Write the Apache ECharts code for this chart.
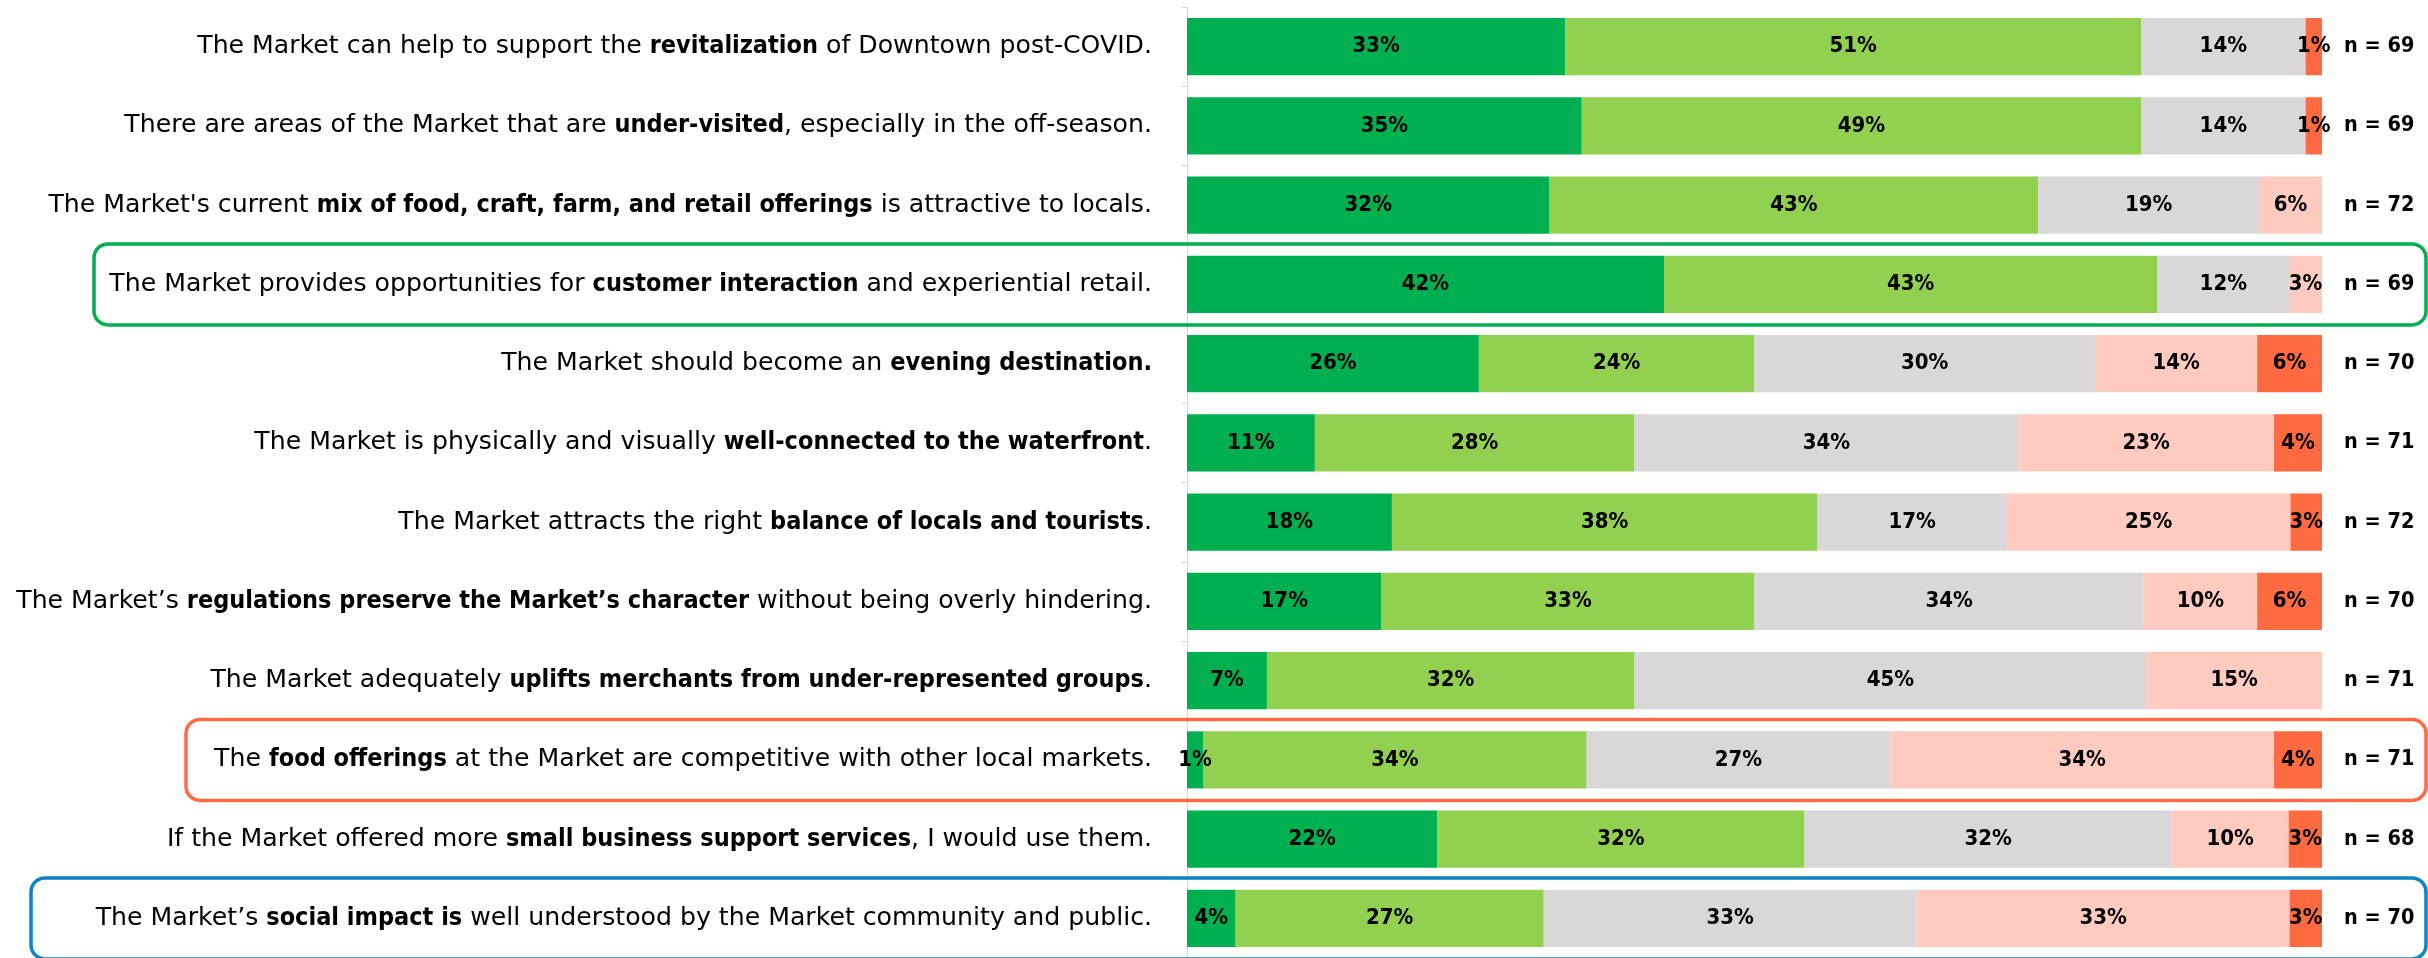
<!DOCTYPE html>
<html>
<head>
<meta charset="utf-8">
<script src="https://cdn.jsdelivr.net/npm/echarts@6/dist/echarts.min.js"></script>
<style>
  html, body { margin: 0; padding: 0; background: #ffffff; }
  #chart { width: 2428px; height: 958px; }
</style>
</head>
<body>
<div id="chart"></div>
<script>
// Statements (bold portions marked with **)
const statements = [
  "The Market can help to support the **revitalization** of Downtown post-COVID.",
  "There are areas of the Market that are **under-visited**, especially in the off-season.",
  "The Market's current **mix of food, craft, farm, and retail offerings** is attractive to locals.",
  "The Market provides opportunities for **customer interaction** and experiential retail.",
  "The Market should become an **evening destination.**",
  "The Market is physically and visually **well-connected to the waterfront**.",
  "The Market attracts the right **balance of locals and tourists**.",
  "The Market\u2019s **regulations preserve the Market\u2019s character** without being overly hindering.",
  "The Market adequately **uplifts merchants from under-represented groups**.",
  "The **food offerings** at the Market are competitive with other local markets.",
  "If the Market offered more **small business support services**, I would use them.",
  "The Market\u2019s **social impact is** well understood by the Market community and public."
];
// Respondents per statement
const respondents = [69, 69, 72, 69, 70, 71, 72, 70, 71, 71, 68, 70];
// Response counts per level
const stronglyAgree    = [23, 24, 23, 29, 18,  8, 13, 12,  5,  1, 15,  3];
const agree            = [35, 34, 31, 30, 17, 20, 27, 23, 23, 24, 22, 19];
const neutral          = [10, 10, 14,  8, 21, 24, 12, 24, 32, 19, 22, 23];
const disagree         = [ 0,  0,  4,  2, 10, 16, 18,  7, 11, 24,  7, 23];
const stronglyDisagree = [ 1,  1,  0,  0,  4,  3,  2,  4,  0,  3,  2,  2];

const levelNames  = ["Strongly agree", "Agree", "Neutral", "Disagree", "Strongly disagree"];
const levelCounts = [stronglyAgree, agree, neutral, disagree, stronglyDisagree];
const levelColors = ["#00B050", "#92D050", "#D9D7D7", "#FFCAC0", "#FF6A40"];

const FONT = "DejaVu Sans";
const FONT_BOLD = "'DejaVu Sans Condensed', 'DejaVu Sans'";

function toRich(s) {
  const parts = s.split("**");
  let out = "";
  parts.forEach((p, i) => {
    if (!p) return;
    out += (i % 2 === 1 ? "{b|" : "{n|") + p + "}";
  });
  return out;
}

const chart = echarts.init(document.getElementById("chart"), null, { renderer: "canvas" });

const series = levelCounts.map((counts, li) => ({
  name: levelNames[li],
  type: "bar",
  stack: "total",
  yAxisIndex: 0,
  barCategoryGap: "28%",
  itemStyle: { color: levelColors[li] },
  label: {
    show: true,
    position: "inside",
    color: "#000000",
    fontFamily: FONT_BOLD,
    fontWeight: "bold",
    fontSize: 22,
    textBorderWidth: 0,
    formatter: p => (p.value > 0 ? Math.round(p.value) + "%" : "")
  },
  emphasis: { disabled: true },
  data: counts.map((c, i) => c / respondents[i] * 100)
}));

chart.setOption({
  animation: false,
  backgroundColor: "#ffffff",
  grid: { left: 1187, top: 7, width: 1135, height: 954, containLabel: false },
  xAxis: { type: "value", min: 0, max: 100, show: false },
  yAxis: [
    {
      type: "category",
      inverse: true,
      data: statements,
      axisLine: { show: true, lineStyle: { color: "#D9D9D9", width: 1 } },
      axisTick: { show: true, length: 6, lineStyle: { color: "#D9D9D9" } },
      axisLabel: {
        margin: 35,
        formatter: v => toRich(v),
        rich: {
          n: { fontFamily: FONT, fontSize: 25.2, color: "#000000", fontWeight: "normal" },
          b: { fontFamily: FONT_BOLD, fontSize: 25, color: "#000000", fontWeight: "bold" }
        }
      }
    },
    {
      type: "category",
      inverse: true,
      position: "right",
      data: respondents.map(n => "n = " + n),
      axisLine: { show: false },
      axisTick: { show: false },
      axisLabel: {
        margin: 22,
        fontFamily: FONT_BOLD,
        fontWeight: "bold",
        fontSize: 21.5,
        color: "#000000"
      }
    }
  ],
  series: series
});

// Highlight boxes around selected statements
const boxes = [
  { row: 3,  left: 94,  color: "#00B050" },
  { row: 9,  left: 186, color: "#FF6A45" },
  { row: 11, left: 31,  color: "#0C84C4" }
];
const rightEdge = 2426;
const halfH = 40.5;
chart.setOption({
  graphic: boxes.map(b => {
    const cy = chart.convertToPixel({ yAxisIndex: 0 }, b.row);
    return {
      type: "rect",
      shape: { x: b.left, y: cy - halfH, width: rightEdge - b.left, height: halfH * 2, r: 14 },
      style: { fill: "none", stroke: b.color, lineWidth: 3.5 },
      silent: true,
      z: 10
    };
  })
});
</script>
</body>
</html>
